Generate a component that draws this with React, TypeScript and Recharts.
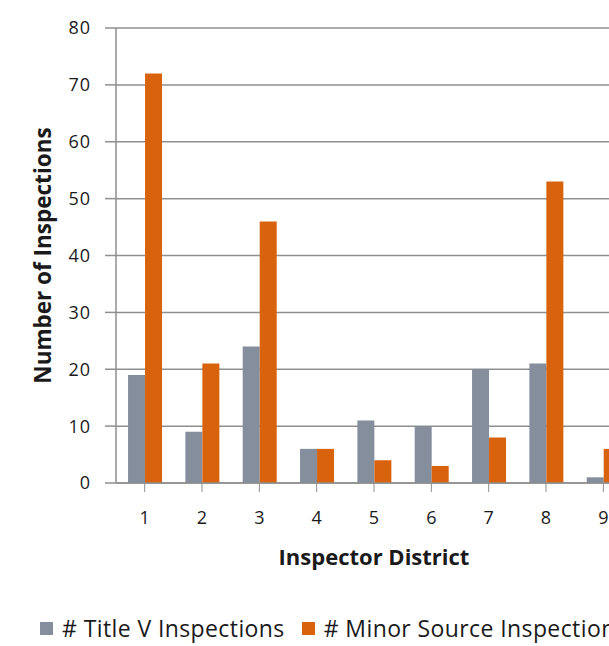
import React from 'react';
import { BarChart, Bar, XAxis, YAxis, CartesianGrid, Legend } from 'recharts';

const districts = ['1', '2', '3', '4', '5', '6', '7', '8', '9'];
const titleV = [19, 9, 24, 6, 11, 10, 20, 21, 1];
const minorSource = [72, 21, 46, 6, 4, 3, 8, 53, 6];
const yTicks = [0, 10, 20, 30, 40, 50, 60, 70, 80];

const seriesNames = ['# Title V Inspections', '# Minor Source Inspections'];
const colors = ['#848E9C', '#D9620C'];

const data = districts.map((d, i) => ({ district: d, titleV: titleV[i], minor: minorSource[i] }));

const FONT = '"Open Sans", "Lato", sans-serif';

const YTitle = (props: any) => {
  const vb = props.viewBox;
  const cx = vb.x + 42;
  const cy = vb.y + vb.height / 2;
  return (
    <text x={cx} y={cy} transform={`rotate(-90 ${cx} ${cy})`} textAnchor="middle" dominantBaseline="central"
      style={{ fontFamily: FONT, fontSize: 22.5, fontWeight: 700, fill: '#1a1a1a' }}>
      Number of Inspections
    </text>
  );
};

const XTitle = (props: any) => {
  const vb = props.viewBox;
  const cx = vb.x + vb.width / 2;
  const cy = vb.y + 73;
  return (
    <text x={cx} y={cy} textAnchor="middle" dominantBaseline="central"
      style={{ fontFamily: FONT, fontSize: 22, fontWeight: 700, fill: '#1a1a1a' }}>
      Inspector District
    </text>
  );
};

const LegendContent = () => (
  <div style={{ display: 'flex', alignItems: 'center', paddingLeft: 40, height: 30, fontFamily: FONT, fontSize: 23, letterSpacing: 0.4, color: '#1a1a1a', whiteSpace: 'nowrap' }}>
    {seriesNames.map((n, i) => (
      <div key={n} style={{ display: 'flex', alignItems: 'center', marginRight: 17 }}>
        <span style={{ display: 'inline-block', width: 13, height: 13, background: colors[i], marginRight: 9 }} />
        <span>{n}</span>
      </div>
    ))}
  </div>
);

export default function App() {
  return (
    <div style={{ position: 'absolute', left: 0, top: 0, width: 609, height: 646, overflow: 'hidden', background: '#fff' }}>
      <BarChart width={632} height={646} data={data} margin={{ top: 28, right: 0, bottom: 3, left: 0 }}
        barCategoryGap="21%" barGap={0}>
        <CartesianGrid vertical={false} stroke="#8f8f8f" strokeWidth={1.5} />
        <XAxis dataKey="district" height={130} tickSize={9} tickMargin={19}
          stroke="#8f8f8f" tick={{ fill: '#1a1a1a', fontSize: 18, fontFamily: FONT }}
          axisLine={{ stroke: '#8f8f8f', strokeWidth: 1.5 }} tickLine={{ stroke: '#8f8f8f' }}
          interval={0} label={<XTitle />} />
        <YAxis width={116} domain={[0, 80]} ticks={yTicks} tickSize={11} tickMargin={14}
          tick={{ fill: '#1a1a1a', fontSize: 18, fontFamily: FONT, letterSpacing: 1 }}
          axisLine={{ stroke: '#8f8f8f', strokeWidth: 1.5 }} tickLine={{ stroke: '#8f8f8f', strokeWidth: 1.5 }}
          label={<YTitle />} />
        <Legend verticalAlign="bottom" wrapperStyle={{ left: 0, width: 632, height: 30 }} content={<LegendContent />} />
        <Bar dataKey="titleV" name={seriesNames[0]} fill={colors[0]} isAnimationActive={false} />
        <Bar dataKey="minor" name={seriesNames[1]} fill={colors[1]} isAnimationActive={false} />
      </BarChart>
    </div>
  );
}
